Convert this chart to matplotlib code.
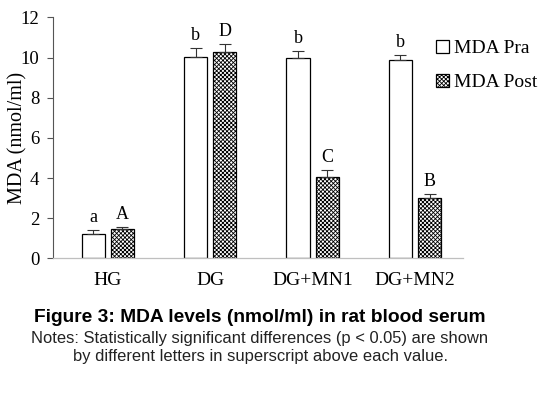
import numpy as np
import matplotlib.pyplot as plt

groups = ['HG', 'DG', 'DG+MN1', 'DG+MN2']
pra = [1.20, 10.04, 9.96, 9.86]
pra_err = [0.21, 0.42, 0.38, 0.25]
post = [1.44, 10.26, 4.03, 2.99]
post_err = [0.13, 0.41, 0.38, 0.20]
pra_letters = ['a', 'b', 'b', 'b']
post_letters = ['A', 'D', 'C', 'B']

plt.rcParams['hatch.linewidth'] = 0.6

fig = plt.figure(figsize=(5.48, 3.95), dpi=100)
ax = fig.add_axes([0.0973, 0.346, 0.748, 0.610])

x = np.arange(len(groups))
w = 0.225
off = 0.1425
serif = 'Liberation Serif'

ax.bar(x - off, pra, w, color='white', edgecolor='black', linewidth=0.9,
       label='MDA Pra', zorder=2)
ax.bar(x + off, post, w, color='white', edgecolor='black', linewidth=0.9,
       hatch='xxxxxxxx', label='MDA Post', zorder=2)
ax.errorbar(x - off, pra, yerr=[np.zeros(4), pra_err], fmt='none',
            ecolor='#333333', elinewidth=0.8, capsize=4, capthick=0.8, zorder=3)
ax.errorbar(x + off, post, yerr=[np.zeros(4), post_err], fmt='none',
            ecolor='#333333', elinewidth=0.8, capsize=4, capthick=0.8, zorder=3)

for i in range(len(groups)):
    ax.text(x[i] - off, pra[i] + pra_err[i] + 0.2, pra_letters[i],
            ha='center', va='bottom', family=serif, fontsize=13)
    ax.text(x[i] + off, post[i] + post_err[i] + 0.2, post_letters[i],
            ha='center', va='bottom', family=serif, fontsize=13)

ax.set_xlim(-0.53, 3.47)
ax.set_ylim(0, 12)
ax.set_yticks(range(0, 13, 2))
ax.set_xticks(x)
ax.set_xticklabels(groups, family=serif, fontsize=14)
ax.tick_params(axis='x', length=0, pad=10)
ax.tick_params(axis='y', length=4, width=0.8, color='#555555', pad=6)
for lab in ax.get_yticklabels():
    lab.set_family(serif)
    lab.set_fontsize(13.5)
ax.set_ylabel('MDA (nmol/ml)', family=serif, fontsize=14.5)
ax.yaxis.set_label_coords(-0.062, 0.5)

for s in ['top', 'right']:
    ax.spines[s].set_visible(False)
ax.spines['left'].set_color('#555555')
ax.spines['left'].set_linewidth(0.8)
ax.spines['bottom'].set_color('#bfbfbf')
ax.spines['bottom'].set_linewidth(0.9)

fig.legend(loc='upper left', bbox_to_anchor=(0.764, 0.943), frameon=False,
           prop={'family': serif, 'size': 14}, handlelength=0.65,
           handleheight=0.65, handletextpad=0.25, labelspacing=0.85)

fig.text(0.4745, 0.197, 'Figure 3: MDA levels (nmol/ml) in rat blood serum',
         ha='center', va='center', family='Liberation Sans',
         fontweight='bold', fontsize=13.8)
fig.text(0.4745, 0.1215, 'Notes: Statistically significant differences (p < 0.05) are shown\n'
         'by different letters in superscript above each value.',
         ha='center', va='center', family='Liberation Sans', fontsize=11.9,
         color='#222222', linespacing=1.25)

fig.savefig('out.png', dpi=100)
